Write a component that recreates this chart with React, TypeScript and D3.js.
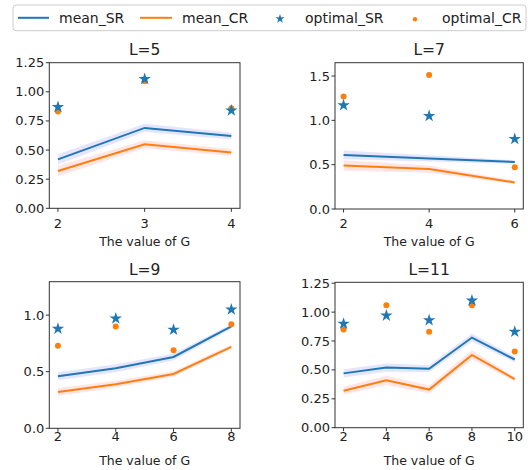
import React from 'react';
import * as d3 from 'd3';

// G values per panel
const G5 = [2, 3, 4];
const G7 = [2, 4, 6];
const G9 = [2, 4, 6, 8];
const G11 = [2, 4, 6, 8, 10];

// L=5
const meanSR5 = [0.42, 0.69, 0.62];
const meanCR5 = [0.32, 0.55, 0.48];
const optSR5 = [0.87, 1.11, 0.84];
const optCR5 = [0.83, 1.09, 0.86];
const bandSR5 = [0.045, 0.035, 0.03];
const bandCR5 = [0.045, 0.035, 0.03];

// L=7
const meanSR7 = [0.61, 0.57, 0.53];
const meanCR7 = [0.49, 0.45, 0.3];
const optSR7 = [1.17, 1.05, 0.79];
const optCR7 = [1.27, 1.51, 0.47];
const bandSR7 = [0.05, 0.035, 0.02];
const bandCR7 = [0.06, 0.04, 0.02];

// L=9
const meanSR9 = [0.46, 0.53, 0.63, 0.9];
const meanCR9 = [0.32, 0.39, 0.48, 0.72];
const optSR9 = [0.88, 0.97, 0.87, 1.05];
const optCR9 = [0.73, 0.9, 0.69, 0.92];
const bandSR9 = [0.035, 0.035, 0.03, 0.02];
const bandCR9 = [0.035, 0.03, 0.025, 0.02];

// L=11
const meanSR11 = [0.47, 0.52, 0.51, 0.78, 0.59];
const meanCR11 = [0.32, 0.41, 0.33, 0.63, 0.42];
const optSR11 = [0.9, 0.97, 0.93, 1.1, 0.83];
const optCR11 = [0.85, 1.06, 0.83, 1.06, 0.66];
const bandSR11 = [0.035, 0.035, 0.03, 0.035, 0.025];
const bandCR11 = [0.035, 0.04, 0.035, 0.04, 0.02];

const titles = ['L=5', 'L=7', 'L=9', 'L=11'];
const yTicks5 = [0, 0.25, 0.5, 0.75, 1.0, 1.25];
const yTicks7 = [0, 0.5, 1.0, 1.5];
const yTicks9 = [0, 0.5, 1.0];
const yTicks11 = [0, 0.25, 0.5, 0.75, 1.0, 1.25];
const legendLabels = ['mean_SR', 'mean_CR', 'optimal_SR', 'optimal_CR'];

const BLUE = '#1f77b4';
const ORANGE = '#ff7f0e';
const FONT = '"DejaVu Sans", sans-serif';

const panels = [
    { title: titles[0], g: G5, sr: meanSR5, cr: meanCR5, osr: optSR5, ocr: optCR5, bsr: bandSR5, bcr: bandCR5,
        yTicks: yTicks5, fmt: '.2f', yMax: 1.25, box: [49.3, 240, 62.7, 208.3], tickBase: 228, labelBase: 246, titleBase: 55 },
    { title: titles[1], g: G7, sr: meanSR7, cr: meanCR7, osr: optSR7, ocr: optCR7, bsr: bandSR7, bcr: bandCR7,
        yTicks: yTicks7, fmt: '.1f', yMax: 1.65, box: [335, 523.3, 62.7, 209], tickBase: 228, labelBase: 246, titleBase: 55 },
    { title: titles[2], g: G9, sr: meanSR9, cr: meanCR9, osr: optSR9, ocr: optCR9, bsr: bandSR9, bcr: bandCR9,
        yTicks: yTicks9, fmt: '.1f', yMax: 1.295, box: [49.3, 240, 281.7, 428.3], tickBase: 440.5, labelBase: 465, titleBase: 275 },
    { title: titles[3], g: G11, sr: meanSR11, cr: meanCR11, osr: optSR11, ocr: optCR11, bsr: bandSR11, bcr: bandCR11,
        yTicks: yTicks11, fmt: '.2f', yMax: 1.258, box: [335, 523.3, 282.3, 427.7], tickBase: 440.5, labelBase: 465, titleBase: 275 },
];

const starPath = d3.symbol().type(d3.symbolStar).size(48)() as string;
const smallStar = d3.symbol().type(d3.symbolStar).size(26)() as string;

const Panel = ({ p }: { p: typeof panels[number] }) => {
    const [x0, x1, y0, y1] = p.box;
    const gMin = d3.min(p.g)!, gMax = d3.max(p.g)!;
    const pad = (gMax - gMin) * 0.05;
    const x = d3.scaleLinear().domain([gMin - pad, gMax + pad]).range([x0, x1]);
    const y = d3.scaleLinear().domain([0, p.yMax]).range([y1, y0]);
    const fmt = d3.format(p.fmt);

    const line = d3.line<number>().x((_, i) => x(p.g[i])).y(v => y(v));
    const band = (vals: number[], hw: number[]) =>
        d3.area<number>()
            .x((_, i) => x(p.g[i]))
            .y0((v, i) => y(v - hw[i]))
            .y1((v, i) => y(v + hw[i]))(vals) as string;

    return (
        <g>
            <path d={band(p.sr, p.bsr)} fill="blue" fillOpacity={0.1} />
            <path d={band(p.cr, p.bcr)} fill="red" fillOpacity={0.1} />
            <path d={line(p.sr) as string} fill="none" stroke={BLUE} strokeWidth={2} />
            <path d={line(p.cr) as string} fill="none" stroke={ORANGE} strokeWidth={2} />
            {p.ocr.map((v, i) => (
                <circle key={'c' + i} cx={x(p.g[i])} cy={y(v)} r={3} fill={ORANGE} />
            ))}
            {p.osr.map((v, i) => (
                <path key={'s' + i} d={starPath} transform={`translate(${x(p.g[i])},${y(v)})`} fill={BLUE} />
            ))}
            <rect x={x0} y={y0} width={x1 - x0} height={y1 - y0} fill="none" stroke="#333" strokeWidth={1} />
            {p.yTicks.map(t => (
                <g key={'y' + t}>
                    <line x1={x0 - 3.5} x2={x0} y1={y(t)} y2={y(t)} stroke="#333" />
                    <text x={x0 - 5} y={y(t)} dy="0.35em" textAnchor="end" fontSize={13} fill="#222">{fmt(t)}</text>
                </g>
            ))}
            {p.g.map(t => (
                <g key={'x' + t}>
                    <line x1={x(t)} x2={x(t)} y1={y1} y2={y1 + 3.5} stroke="#333" />
                    <text x={x(t)} y={p.tickBase} textAnchor="middle" fontSize={13} fill="#222">{t}</text>
                </g>
            ))}
            <text x={(x0 + x1) / 2} y={p.labelBase} textAnchor="middle" fontSize={12.5} fill="#222">The value of G</text>
            <text x={(x0 + x1) / 2} y={p.titleBase} textAnchor="middle" fontSize={15.5} fill="#222">{p.title}</text>
        </g>
    );
};

const Legend = () => {
    const cy = 17.8;
    return (
        <g fontSize={14} fill="#222">
            <rect x={13} y={5} width={513} height={25.7} rx={3} fill="white" stroke="#ccc" />
            <line x1={18} x2={49} y1={cy} y2={cy} stroke={BLUE} strokeWidth={2} />
            <text x={59} y={cy} dy="0.35em">{legendLabels[0]}</text>
            <line x1={140} x2={172} y1={cy} y2={cy} stroke={ORANGE} strokeWidth={2} />
            <text x={182} y={cy} dy="0.35em">{legendLabels[1]}</text>
            <path d={smallStar} transform={`translate(280,${cy + 1})`} fill={BLUE} />
            <text x={305} y={cy} dy="0.35em">{legendLabels[2]}</text>
            <circle cx={415} cy={cy + 1.5} r={2.2} fill={ORANGE} />
            <text x={442} y={cy} dy="0.35em">{legendLabels[3]}</text>
        </g>
    );
};

const App = () => (
    <svg width={528} height={470} style={{ position: 'absolute', left: 0, top: 0, background: 'white', fontFamily: FONT }}>
        {panels.map((p, i) => <Panel key={i} p={p} />)}
        <Legend />
    </svg>
);

export default App;
